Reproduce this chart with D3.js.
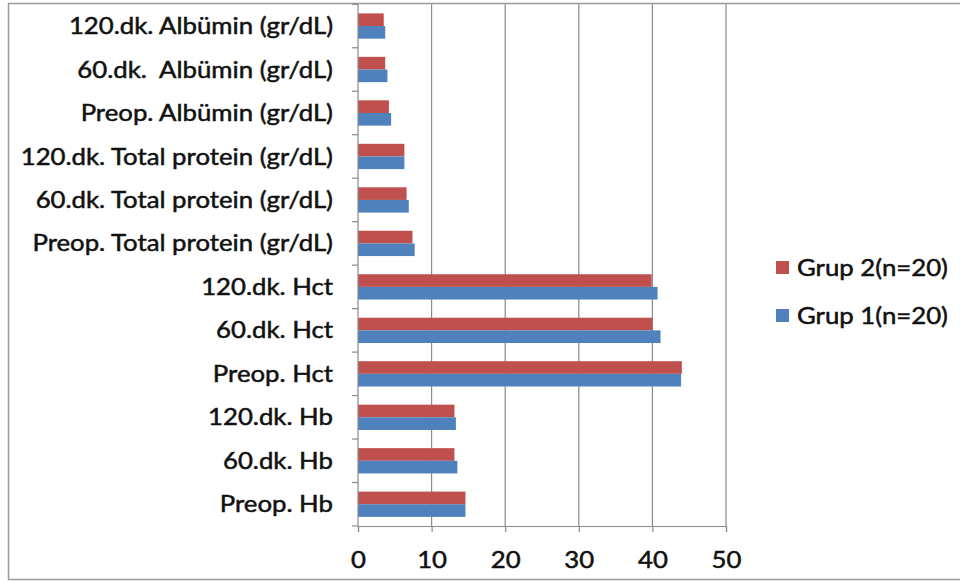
<!DOCTYPE html>
<html>
<head>
<meta charset="utf-8">
<script src="https://cdn.jsdelivr.net/npm/d3@7"></script>
<style>
  body { margin: 0; background: #fff; }
  text { font-family: Lato, "Open Sans", sans-serif; fill: #111; white-space: pre; stroke: #111; stroke-width: 0.5px; }
</style>
</head>
<body>
<div id="chart"></div>
<script>
const SVG_WIDTH = 960;
const SVG_HEIGHT = 582;
const PLOT = { left: 358, right: 726, top: 4.3, bottom: 526 };
const FONT_SIZE = 23;
const STRETCH = 1.12; // the original picture is a bit wider than tall

// bottom to top, as in the original sheet
const CATEGORIES = [
  "Preop. Hb", "60.dk. Hb", "120.dk. Hb",
  "Preop. Hct", "60.dk. Hct", "120.dk. Hct",
  "Preop. Total protein (gr/dL)", "60.dk. Total protein (gr/dL)", "120.dk. Total protein (gr/dL)",
  "Preop. Albümin (gr/dL)", "60.dk.  Albümin (gr/dL)", "120.dk. Albümin (gr/dL)"
];
const GRUP1 = [14.6, 13.5, 13.3, 43.9, 41.1, 40.7, 7.7, 6.9, 6.3, 4.5, 4.0, 3.7];
const GRUP2 = [14.6, 13.1, 13.1, 44.0, 40.0, 39.9, 7.4, 6.6, 6.3, 4.2, 3.7, 3.5];
const SERIES = ["Grup 2(n=20)", "Grup 1(n=20)"];
const X_TICKS = [0, 10, 20, 30, 40, 50];

const COLORS = { "Grup 2(n=20)": "#C0504D", "Grup 1(n=20)": "#4F81BD" };
const GRID = "#8a8a8a";

const rows = CATEGORIES.map((c, i) => ({
  cat: c,
  values: [
    { key: SERIES[0], v: GRUP2[i] },
    { key: SERIES[1], v: GRUP1[i] }
  ]
}));

const svg = d3.select("#chart").append("svg")
  .attr("width", SVG_WIDTH)
  .attr("height", SVG_HEIGHT);

// outer frame
svg.append("rect")
  .attr("x", 8.5).attr("y", 3.5)
  .attr("width", SVG_WIDTH).attr("height", 576)
  .attr("fill", "none")
  .attr("stroke", "#9a9a9a")
  .attr("stroke-width", 1.5);

const xScale = d3.scaleLinear().domain([0, 50]).range([PLOT.left, PLOT.right]);

const yScale = d3.scaleBand()
  .domain(CATEGORIES)
  .range([PLOT.bottom, PLOT.top])
  .paddingInner(0.418)
  .paddingOuter(0.209);

const ySub = d3.scaleBand()
  .domain(SERIES)
  .range([0, yScale.bandwidth()]);

// gridlines
svg.append("g").selectAll("line")
  .data(X_TICKS.slice(1))
  .join("line")
  .attr("x1", d => xScale(d)).attr("x2", d => xScale(d))
  .attr("y1", PLOT.top).attr("y2", PLOT.bottom)
  .attr("stroke", GRID)
  .attr("stroke-width", 1.2);

// bars
svg.append("g").selectAll("g")
  .data(rows)
  .join("g")
  .attr("transform", d => `translate(0,${yScale(d.cat)})`)
  .selectAll("rect")
  .data(d => d.values)
  .join("rect")
  .attr("x", xScale(0))
  .attr("y", d => ySub(d.key))
  .attr("width", d => xScale(d.v) - xScale(0))
  .attr("height", ySub.bandwidth())
  .attr("fill", d => COLORS[d.key]);

// x axis
const xAxis = svg.append("g")
  .attr("transform", `translate(0,${PLOT.bottom})`)
  .call(d3.axisBottom(xScale).tickValues(X_TICKS).tickSize(6).tickPadding(20));
xAxis.select(".domain").attr("stroke", GRID).attr("stroke-width", 1.2);
xAxis.selectAll(".tick line").attr("stroke", GRID).attr("stroke-width", 1.2);
xAxis.selectAll(".tick text")
  .attr("font-size", FONT_SIZE)
  .attr("font-family", "Lato, sans-serif")
  .attr("fill", "#111")
  .attr("transform", `scale(${STRETCH},1)`);

// y axis: line with ticks on the category boundaries
const yAxisG = svg.append("g");
yAxisG.append("line")
  .attr("x1", PLOT.left).attr("x2", PLOT.left)
  .attr("y1", PLOT.top).attr("y2", PLOT.bottom)
  .attr("stroke", GRID).attr("stroke-width", 1.2);
const step = yScale.step();
yAxisG.selectAll(".btick")
  .data(d3.range(CATEGORIES.length + 1))
  .join("line")
  .attr("class", "btick")
  .attr("x1", PLOT.left - 6).attr("x2", PLOT.left)
  .attr("y1", i => PLOT.bottom - i * step)
  .attr("y2", i => PLOT.bottom - i * step)
  .attr("stroke", GRID).attr("stroke-width", 1.2);

yAxisG.selectAll(".cat-label")
  .data(CATEGORIES)
  .join("text")
  .attr("class", "cat-label")
  .attr("transform", d => `translate(333,${yScale(d) + yScale.bandwidth() / 2}) scale(${STRETCH},1)`)
  .attr("dy", "0.35em")
  .attr("text-anchor", "end")
  .attr("font-size", FONT_SIZE)
  .text(d => d);

// legend
const legend = svg.append("g").attr("transform", "translate(776,261)");
legend.selectAll("g")
  .data(SERIES)
  .join("g")
  .attr("transform", (d, i) => `translate(0,${i * 48})`)
  .each(function(d) {
    const item = d3.select(this);
    item.append("rect")
      .attr("width", 13).attr("height", 13)
      .attr("fill", COLORS[d]);
    item.append("text")
      .attr("transform", `translate(21,7) scale(${STRETCH},1)`)
      .attr("dy", "0.35em")
      .attr("font-size", FONT_SIZE)
      .text(d);
  });
</script>
</body>
</html>
